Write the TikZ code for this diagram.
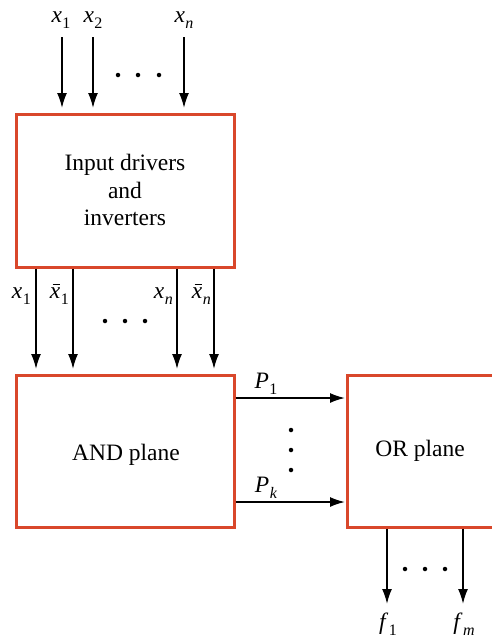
\documentclass[tikz,border=0pt]{standalone}
\usepackage{fontspec}
\setmainfont{Liberation Serif}
\usetikzlibrary{arrows.meta}
\definecolor{boxred}{HTML}{D9472B}
\newcommand\sv[2]{\textit{#1}\kern0.5pt\raisebox{-6pt}{\fontsize{16}{16}\selectfont #2}}
\newcommand\svb[1]{\makebox[0pt][l]{\kern2.8pt\rule[13.2pt]{7pt}{1.1pt}}\textit{x}\kern0.5pt\raisebox{-6pt}{\fontsize{16}{16}\selectfont #1}}
\tikzset{
  blk/.style={draw=boxred, line width=3pt, fill=white},
  sig/.style={line width=1.7pt, -{Latex[length=15pt,width=10pt]}},
  lbl/.style={font=\fontsize{23.5}{27.5}\selectfont, inner sep=1pt},
  dotc/.style={circle, fill=black, inner sep=0pt, minimum size=4.5pt},
}
\begin{document}
\begin{tikzpicture}[x=1pt,y=-1pt]
\useasboundingbox (0,0) rectangle (491,637);
% boxes
\draw[blk] (16,114) rectangle (234,267);
\node[lbl, align=center] (drv) at (125,190) {Input drivers\\and\\inverters};
\draw[blk] (16,375) rectangle (234,527);
\node[lbl] (and) at (126,455) {AND plane};
\draw[blk] (347,375) rectangle (500,527);
\node[lbl] (or) at (420,451) {OR plane};
% inputs
\coordinate (i1s) at (62,37); \coordinate (i1e) at (62,108);
\coordinate (i2s) at (93,37); \coordinate (i2e) at (93,108);
\coordinate (ins) at (184,37); \coordinate (ine) at (184,108);
\draw[sig] (i1s) -- (i1e);
\draw[sig] (i2s) -- (i2e);
\draw[sig] (ins) -- (ine);
\node[lbl, anchor=base] (l1) at (61,22) {\sv{x}{1}};
\node[lbl, anchor=base] (l2) at (93,22) {\sv{x}{2}};
\node[lbl, anchor=base] (ln) at (184,22) {\sv{x}{\textit{n}}};
\node[dotc] (d1) at (118,75) {}; \node[dotc] (d2) at (138,75) {}; \node[dotc] (d3) at (159,75) {};
% middle
\coordinate (a1s) at (36,268.5); \coordinate (a1e) at (36,369);
\coordinate (a2s) at (73,268.5); \coordinate (a2e) at (73,369);
\coordinate (a3s) at (177,268.5); \coordinate (a3e) at (177,369);
\coordinate (a4s) at (214,268.5); \coordinate (a4e) at (214,369);
\draw[sig] (a1s) -- (a1e);
\draw[sig] (a2s) -- (a2e);
\draw[sig] (a3s) -- (a3e);
\draw[sig] (a4s) -- (a4e);
\node[lbl, anchor=base east] (m1) at (32,298) {\sv{x}{1}};
\node[lbl, anchor=base east] (m2) at (70,298) {\svb{1}};
\node[lbl, anchor=base east] (m3) at (174,298) {\sv{x}{\textit{n}}};
\node[lbl, anchor=base east] (m4) at (212,298) {\svb{\textit{n}}};
\node[dotc] (e1) at (105,321) {}; \node[dotc] (e2) at (125,321) {}; \node[dotc] (e3) at (145,321) {};
% products
\coordinate (p1s) at (235.5,398); \coordinate (p1e) at (345,398);
\coordinate (pks) at (235.5,502); \coordinate (pke) at (345,502);
\draw[sig] (p1s) -- (p1e);
\draw[sig] (pks) -- (pke);
\node[lbl, anchor=base] (pl1) at (266,388) {\sv{P}{1}};
\node[lbl, anchor=base] (plk) at (266,492) {\sv{P}{\textit{k}}};
\node[dotc] (v1) at (291,430) {}; \node[dotc] (v2) at (291,450) {}; \node[dotc] (v3) at (291,470) {};
% outputs
\coordinate (o1s) at (387,528.5); \coordinate (o1e) at (387,604);
\coordinate (oms) at (463,528.5); \coordinate (ome) at (463,604);
\draw[sig] (o1s) -- (o1e);
\draw[sig] (oms) -- (ome);
\node[lbl, anchor=base] (f1) at (388,629) {\sv{f}{1}};
\node[lbl, anchor=base] (fm) at (464,629) {\sv{f}{\textit{m}}};
\node[dotc] (g1) at (405,569) {}; \node[dotc] (g2) at (425,569) {}; \node[dotc] (g3) at (445,569) {};
\end{tikzpicture}
\end{document}
